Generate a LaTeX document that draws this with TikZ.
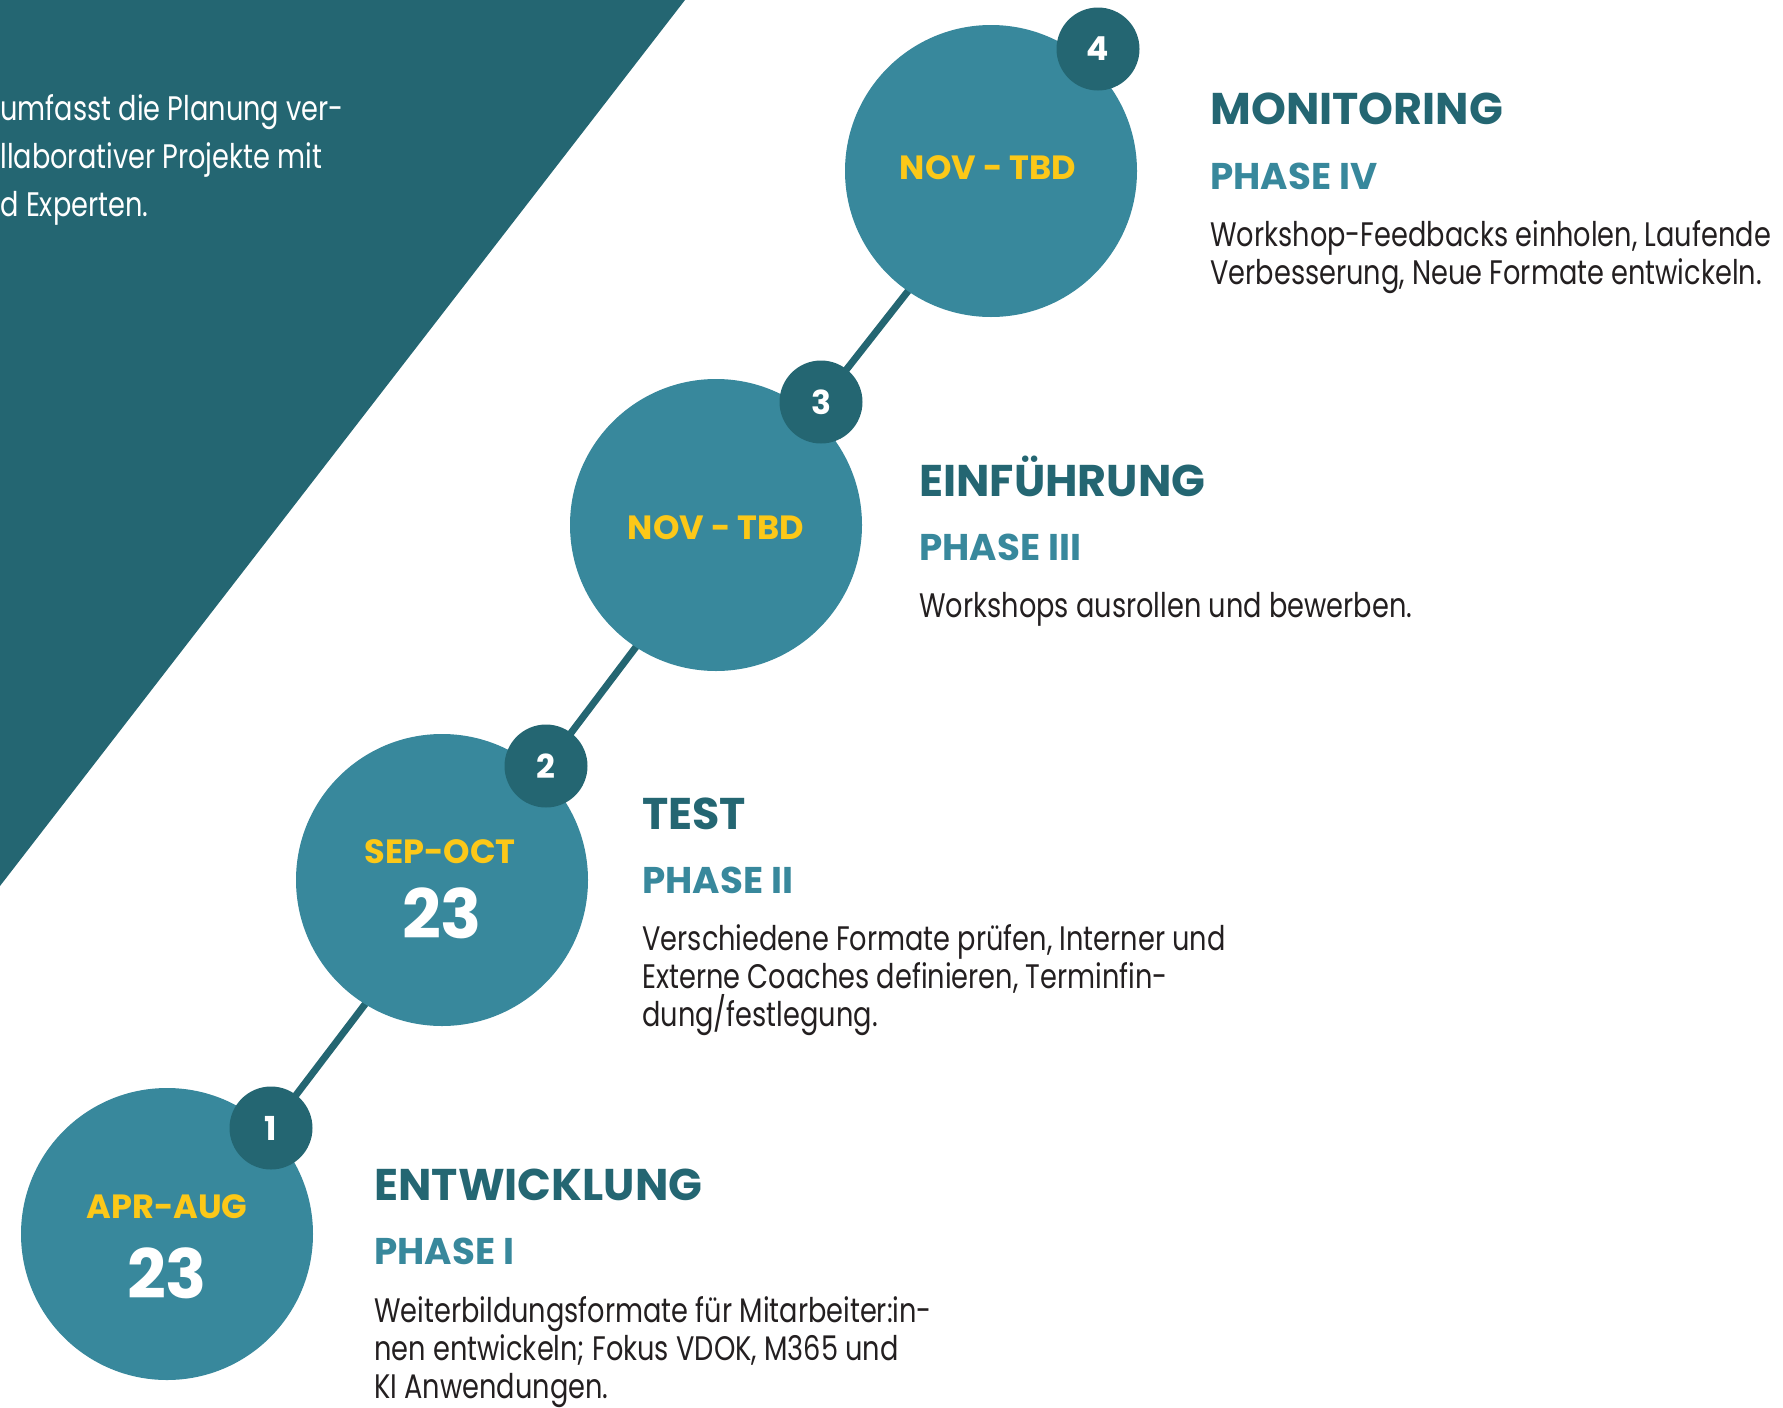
\documentclass[tikz,border=0pt]{standalone}
\usepackage{fontspec}
\setmainfont{Poppins}[FakeStretch=0.8]
\newfontfamily\headfont{Poppins}[FakeStretch=1.0]
\usetikzlibrary{backgrounds,positioning}
\definecolor{DarkTeal}{RGB}{36,102,114}
\definecolor{MidTeal}{RGB}{56,136,156}
\definecolor{DateYellow}{RGB}{252,200,24}
\definecolor{BodyGrey}{RGB}{35,31,32}
\tikzset{
	stagecircle/.style={circle, fill=MidTeal, minimum size=146pt, inner sep=0pt},
	numbadge/.style={circle, fill=DarkTeal, minimum size=41.5pt, inner sep=0pt, text=white,
		font=\headfont\bfseries\fontsize{16.5}{17}\selectfont},
	timeline/.style={DarkTeal, line width=3.5pt},
	datetext/.style={anchor=base, inner sep=0pt, text=DateYellow,
		font=\headfont\bfseries\fontsize{16.8}{18}\selectfont},
	yeartext/.style={anchor=base, inner sep=0pt, text=white,
		font=\headfont\bfseries\fontsize{34}{34}\selectfont},
	titletext/.style={anchor=base west, inner sep=0pt, text=DarkTeal,
		font=\headfont\bfseries\fontsize{22.2}{23}\selectfont},
	phasetext/.style={anchor=base west, inner sep=0pt, text=MidTeal,
		font=\headfont\bfseries\fontsize{18.6}{19}\selectfont},
	desctext/.style={anchor=base west, inner sep=0pt, align=left, text=BodyGrey,
		font=\fontsize{17}{19}\selectfont},
	introtext/.style={anchor=base west, inner sep=0pt, align=left, text=white,
		font=\fontsize{17}{24}\selectfont}
}
\begin{document}
\begin{tikzpicture}[x=0.5pt, y=-0.5pt]
	\useasboundingbox (0,0) rectangle (1783,1408);
	% phase circles
	\node[stagecircle] (stage1) at (167,1234) {};
	\node[stagecircle] (stage2) at (442,880) {};
	\node[stagecircle] (stage3) at (716,525) {};
	\node[stagecircle] (stage4) at (991,171) {};
	\node[numbadge] (num1) at (271,1128) {1};
	\node[numbadge] (num2) at (546,766) {2};
	\node[numbadge] (num3) at (821,402) {3};
	\node[numbadge] (num4) at (1098,49) {4};
	\begin{scope}[on background layer]
		\fill[DarkTeal] (0,0) -- (685,0) -- (0,886) -- cycle;
		\draw[timeline] (num1.center) -- (num2.center);
		\draw[timeline] (num2.center) -- (num3.center);
		\draw[timeline] (num3.center) -- (num4.center);
	\end{scope}
	% multi-line texts sit on their last baseline
	\node[introtext] (intro) at (0,216) {umfasst die Planung ver-\\llaborativer Projekte mit\\d Experten.};
	% dates
	\node[datetext] (date1) at (167,1218) {APR-AUG};
	\node[yeartext] (year1) at (167,1298) {23};
	\node[datetext] (date2) at (440,863) {SEP-OCT};
	\node[yeartext] (year2) at (442,938) {23};
	\node[datetext] (date3) at (716,539) {NOV - TBD};
	\node[datetext] (date4) at (988,179) {NOV - TBD};
	% phase texts
	\node[titletext] (title1) at (374,1200) {ENTWICKLUNG};
	\node[phasetext] (phase1) at (374,1264) {PHASE I};
	\node[desctext] (desc1) at (374,1398) {Weiterbildungsformate für Mitarbeiter:in-\\nen entwickeln; Fokus VDOK, M365 und\\KI Anwendungen.};
	\node[titletext] (title2) at (642,829) {TEST};
	\node[phasetext] (phase2) at (642,893) {PHASE II};
	\node[desctext] (desc2) at (642,1026) {Verschiedene Formate prüfen, Interner und\\Externe Coaches definieren, Terminfin-\\dung/festlegung.};
	\node[titletext] (title3) at (919,496) {EINFÜHRUNG};
	\node[phasetext] (phase3) at (919,560) {PHASE III};
	\node[desctext] (desc3) at (919,617) {Workshops ausrollen und bewerben.};
	\node[titletext] (title4) at (1210,124) {MONITORING};
	\node[phasetext] (phase4) at (1210,189) {PHASE IV};
	\node[desctext] (desc4) at (1210,284) {Workshop-Feedbacks einholen, Laufende\\Verbesserung, Neue Formate entwickeln.};
\end{tikzpicture}
\end{document}
